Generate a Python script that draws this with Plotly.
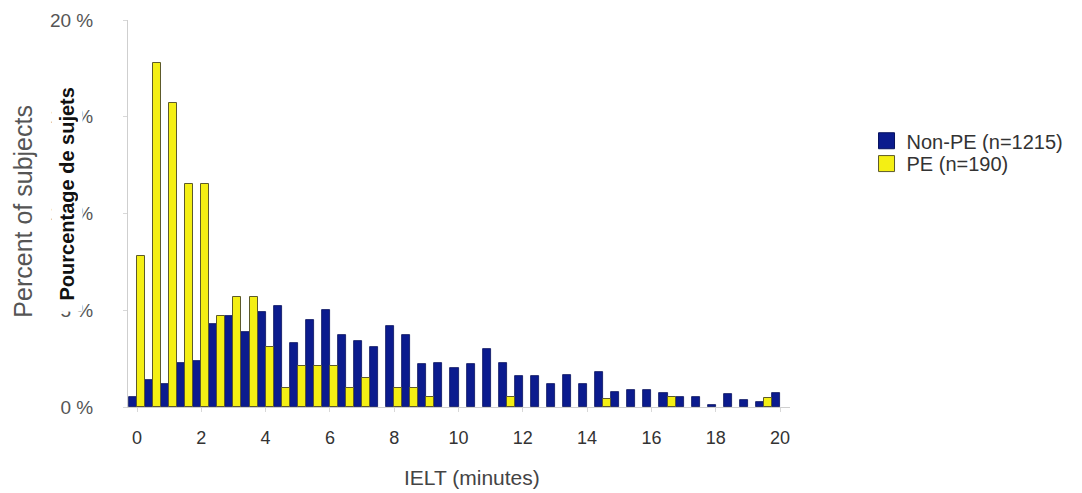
import plotly.graph_objects as go

# IELT bins (minutes)
ielt_minutes = [0, 0.5, 1, 1.5, 2, 2.5, 3, 3.5, 4, 4.5, 5, 5.5, 6, 6.5, 7, 7.5,
                8, 8.5, 9, 9.5, 10, 10.5, 11, 11.5, 12, 12.5, 13, 13.5, 14, 14.5,
                15, 15.5, 16, 16.5, 17, 17.5, 18, 18.5, 19, 19.5, 20]

# Percent of subjects, Non-PE (n=1215)
non_pe_pct = [0.5, 1.4, 1.2, 2.3, 2.4, 4.3, 4.7, 3.9, 4.9, 5.2, 3.3, 4.5, 5.0, 3.7, 3.4, 3.1,
              4.2, 3.7, 2.2, 2.3, 2.0, 2.2, 3.0, 2.3, 1.6, 1.6, 1.2, 1.65, 1.2, 1.8,
              0.8, 0.9, 0.9, 0.7, 0.5, 0.5, 0.1, 0.65, 0.35, 0.25, 0.7]

# Percent of subjects, PE (n=190)
pe_pct = [7.8, 17.8, 15.7, 11.5, 11.5, 4.7, 5.7, 5.7, 3.1, 1.0, 2.1, 2.1, 2.1, 1.0, 1.5, None,
          1.0, 1.0, 0.5, None, None, None, None, 0.5, None, None, None, None, None, 0.4,
          None, None, None, 0.5, None, None, None, None, None, 0.45, None]

y_tick_vals = [0, 5, 10, 15, 20]
y_tick_text = ["0 %", "5 %", "10 %", "15 %", "20 %"]
x_tick_vals = [0, 2, 4, 6, 8, 10, 12, 14, 16, 18, 20]

series_names = ["Non-PE (n=1215)", "PE (n=190)"]
BLUE = "#0b1b8e"
YELLOW = "#f4ef14"

fig = go.Figure()
fig.add_bar(x=ielt_minutes, y=non_pe_pct, name=series_names[0], showlegend=False,
            marker=dict(color=BLUE, line=dict(color="#07125e", width=0.8)))
fig.add_bar(x=ielt_minutes, y=pe_pct, name=series_names[1], showlegend=False,
            marker=dict(color=YELLOW, line=dict(color="#5d5a2a", width=1)))

# legend entries (square swatches), each in its own legend box for tight spacing
fig.add_scatter(x=[None], y=[None], mode="markers", name=series_names[0], legend="legend",
                marker=dict(symbol="square", size=16, color=BLUE, line=dict(color="#07125e", width=1)))
fig.add_scatter(x=[None], y=[None], mode="markers", name=series_names[1], legend="legend2",
                marker=dict(symbol="square", size=16, color=YELLOW, line=dict(color="#5d5a2a", width=1)))

FONT = "Liberation Sans, Arial, sans-serif"
legend_common = dict(xanchor="left", yanchor="middle", font=dict(size=20, color="#333", family=FONT),
                     itemsizing="trace", bgcolor="rgba(0,0,0,0)", borderwidth=0)

fig.update_layout(
    width=1082, height=493,
    margin=dict(l=120, r=300, t=12, b=94, autoexpand=False),
    paper_bgcolor="white", plot_bgcolor="white",
    barmode="group", bargap=0.0, bargroupgap=0.0,
    font=dict(family=FONT, color="#444"),
    legend=dict(x=1.1156, y=0.688, **legend_common),
    legend2=dict(x=1.1156, y=0.629, **legend_common),
    xaxis=dict(range=[-0.28, 20.31], tickvals=x_tick_vals, showgrid=False, zeroline=False,
               automargin=False,
               showline=True, linecolor="#cfcfcf", linewidth=1,
               ticks="outside", ticklen=4, tickcolor="#d8d8d8",
               tickfont=dict(size=18, color="#333", family=FONT), ticklabelstandoff=10),
    yaxis=dict(range=[0, 20], tickvals=y_tick_vals, ticktext=y_tick_text,
               automargin=False,
               showgrid=False, zeroline=False, showline=True, linecolor="#cfcfcf", linewidth=1,
               ticks="outside", ticklen=4, tickcolor="#d8d8d8",
               tickfont=dict(size=19, color="#555", family=FONT), ticklabelstandoff=26),
    annotations=[
        dict(text="Percent of subjects", xref="paper", yref="paper", x=-0.160, y=0.505,
             textangle=-90, showarrow=False, xanchor="center", yanchor="middle",
             font=dict(size=25, color="#555", family=FONT)),
        dict(text="IELT (minutes)", xref="paper", yref="paper", x=0.52, y=-0.183,
             showarrow=False, xanchor="center", yanchor="middle",
             font=dict(size=21, color="#444", family=FONT)),
        dict(text="<b>Pourcentage de sujets</b>", xref="paper", yref="paper", x=-0.092, y=0.5426,
             textangle=-90, showarrow=False, xanchor="center", yanchor="middle",
             width=220, align="right",
             bgcolor="white", borderpad=4,
             font=dict(size=20, color="#111", family=FONT)),
    ],
)

fig.write_html("out.html")
